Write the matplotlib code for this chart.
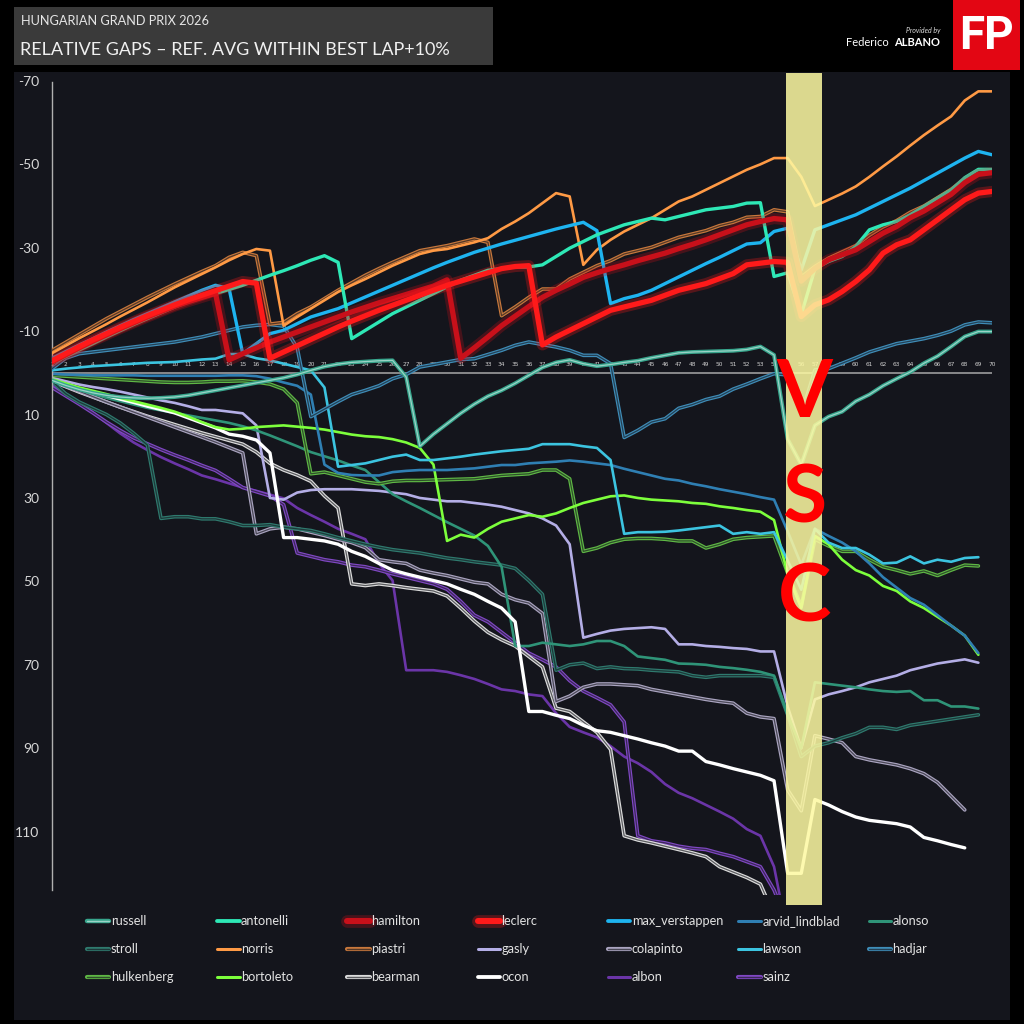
import numpy as np
import matplotlib
matplotlib.use('Agg')
import matplotlib.pyplot as plt
import matplotlib.patheffects as pe
from matplotlib.patches import Rectangle
from matplotlib.lines import Line2D

nan = np.nan
laps = list(range(1, 71))
y_ticks = [-70, -50, -30, -10, 10, 30, 50, 70, 90, 110]
vsc_start, vsc_end = 54.9, 57.5

russell = [1.8, 3, 4, 4.8, 5.4, 5.8, 6, 6.1, 6, 5.8,
           5.4, 4.8, 4.2, 3.6, 3, 2.4, 1.8, 1.2, 0.4, -0.6,
           -1.5, -2.1, -2.5, -2.7, -2.9, -3, 1, 17.6, 14.7, 12.2,
           9.7, 7.5, 5.6, 4.2, 2.5, 0.6, -1.3, -2.5, -3.1, -2.2,
           -1.6, -2, -2.5, -2.9, -3.6, -4.2, -4.8, -5, -5.1, -5.2,
           -5.3, -5.6, -6.3, -4.3, 15.9, 22, 12.6, 10.5, 9.3, 6.8,
           5.2, 3.1, 1.4, -0.2, -2.3, -4, -6.3, -8.7, -9.9, -9.9]
antonelli = [-2.3, -3.9, -5.5, -7, -8.6, -10.1, -11.6, -13, -14.4, -15.8,
             -17, -18, -19, -20, -21, -22.2, -23.4, -24.5, -25.7, -27,
             -28.1, -26.5, -8.2, -10.2, -12.2, -14.2, -15.8, -17.4, -19, -20.6,
             -22.2, -23.4, -24.6, -25, -25.4, -25.4, -25.9, -27.9, -29.9, -31.5,
             -33.1, -34.3, -35.5, -36.3, -37.1, -36.7, -37.5, -38.3, -39.1, -39.5,
             -39.9, -40.7, -40.8, -23.1, -24, -14, -25, -26.7, -27.9, -30.3,
             -34.3, -35.5, -36.3, -37.9, -39.9, -41.9, -43.9, -46.8, -48.8, -48.8]
hamilton = [-2.6, -4.3, -6, -7.6, -9.1, -10.6, -12, -13.4, -14.7, -16,
            -17.1, -18.1, -19.1, -3.1, -4.6, -6, -7.4, -8.6, -9.8, -11,
            -12.2, -13.4, -14.6, -15.7, -16.8, -17.8, -18.8, -19.8, -20.8, -22.3,
            -3.5, -6, -8.6, -11.3, -13.6, -15.9, -18.1, -19.8, -21.3, -22.9,
            -24, -25, -25.9, -26.9, -27.8, -28.7, -29.8, -30.8, -31.9, -33.1,
            -34.3, -35.5, -36.3, -37, -36.7, -22, -25, -27.1, -28.3, -29.5,
            -31.5, -33.5, -35.1, -37.2, -38.8, -40.8, -42.8, -45.6, -47.6, -48]
leclerc = [-2.9, -4.6, -6.3, -7.9, -9.4, -10.9, -12.3, -13.7, -15, -16.3,
           -17.5, -18.6, -19.7, -20.8, -21.9, -21.5, -3.5, -5, -6.5, -8,
           -9.5, -11, -12.4, -13.7, -15, -16.2, -17.4, -18.6, -19.8, -21,
           -22, -23, -24, -25, -25.5, -25.7, -6.7, -8.6, -10.2, -11.8,
           -13.4, -15, -15.8, -16.6, -17.4, -18.6, -19.8, -20.6, -21.4, -22.6,
           -23.8, -25.9, -26.3, -26.7, -26.5, -13.5, -16.3, -17.5, -19.5, -21.9,
           -24.7, -28.7, -30.7, -31.9, -34.3, -36.7, -39.1, -41.5, -43.1, -43.5]
max_verstappen = [-3.5, -5.1, -6.7, -8.2, -9.8, -11.3, -12.8, -14.2, -15.6, -17,
                  -18.4, -19.8, -21, -20.2, -4.6, -7, -9.4, -10.2, -11.8, -13.4,
                  -14.4, -15.4, -16.8, -18.2, -19.6, -21, -22.4, -23.8, -25.2, -26.5,
                  -27.7, -28.9, -29.9, -30.9, -31.8, -32.7, -33.6, -34.5, -35.3, -36.1,
                  -34.1, -16.6, -17.8, -18.6, -19.8, -21.4, -23, -24.6, -26.2, -27.7,
                  -29.3, -30.9, -31.2, -33.9, -34.7, -24.7, -34.3, -35.5, -36.7, -37.9,
                  -39.5, -41.1, -42.7, -44.3, -46.1, -47.9, -49.7, -51.5, -53.1, -52.3]
arvid_lindblad = [0.2, 0.4, 0.5, 0.6, 0.6, 0.6, 0.6, 0.7, 0.7, 0.7,
                  0.7, 0.7, 0.7, 0.6, 0.6, 0.8, 1.4, 2.3, 3.1, 5.2,
                  22, 24, 24.5, 24.6, 24.6, 23.8, 23.5, 23.3, 23.3, 23.3,
                  23.1, 22.9, 22.5, 22.1, 22.1, 21.7, 21.5, 21.3, 21, 21.3,
                  21.7, 22.1, 23, 23.8, 24.6, 25.4, 25.8, 26.6, 27.2, 27.9,
                  28.5, 29.1, 29.8, 30.4, 38, 46, 37.4, 39.1, 40.7, 42.8,
                  45.7, 49, 51.5, 54, 55.6, 58.1, 60.6, 63, 67.2, nan]
alonso = [2, 3, 4, 5, 6, 6.8, 7.6, 8.4, 9, 9.6,
          10.2, 10.8, 11.4, 12, 12.8, 13.8, 15, 16.3, 17.6, 19,
          20, 21, 22.2, 23.3, 26.2, 29.1, 30.8, 32.4, 34.1, 35.8,
          37.4, 39, 41.5, 46.5, 65.5, 65.5, 64.7, 65.1, 65.5, 65.1,
          64.3, 64.3, 65.5, 68, 68.4, 68.8, 69.7, 69.8, 70, 70.5,
          70.8, 71.2, 71.7, 72.6, 82, 90, 74.2, 74.6, 75, 75.4,
          75.9, 76.3, 76.5, 76.3, 78.5, 78.5, 80, 80, 80.5, nan]
stroll = [2, 5, 7, 8.5, 10, 12, 14.5, 17.3, 34.9, 34.5,
          34.5, 35, 35, 35.7, 36.6, 36.6, 36.4, 37, 37.4, 37.8,
          38.6, 39.5, 40.3, 41.1, 41.8, 42.4, 42.8, 43.2, 43.8, 44.4,
          44.8, 45.3, 45.7, 46.1, 46.9, 49.8, 53.1, 71.3, 70, 69.6,
          70.9, 70.5, 70.9, 71, 71.3, 71.5, 71.7, 72.6, 73, 72.6,
          72.6, 72.6, 72.6, 73, 82, 92, 89.5, 88.7, 87.5, 86.5,
          85, 85, 85.5, 84.5, 84, 83.5, 83, 82.5, 82, nan]
norris = [-4.7, -6.5, -8.3, -10, -11.7, -13.5, -15.2, -16.9, -18.7, -20.5,
          -22.1, -23.7, -25.3, -27, -28.5, -29.7, -29.3, -11.3, -13.4, -15.4,
          -17.4, -19.4, -21, -22.5, -24.1, -25.7, -27.1, -28.5, -29.3, -29.7,
          -30.5, -31.3, -32.3, -34.5, -36.3, -38.3, -40.7, -43.1, -42.3, -25.9,
          -29.5, -31.9, -33.9, -35.5, -37.1, -39.1, -41.1, -42.3, -43.9, -45.5,
          -47.1, -48.7, -50, -51.5, -51.5, -47, -40, -41.5, -43, -44.7,
          -47, -49.5, -51.9, -54.5, -57, -59.3, -61.5, -65.3, -67.5, -67.5]
piastri = [-5.4, -7.3, -9.2, -11.1, -13, -14.7, -16.4, -18.1, -19.7, -21.3,
           -22.8, -24.3, -25.7, -27.7, -28.9, -28.1, -11.7, -12.1, -14.2, -15.8,
           -17.8, -19.8, -21.6, -23.4, -25, -26.5, -27.9, -29.3, -29.9, -30.5,
           -31.3, -32.1, -31.3, -13.7, -15.8, -18.1, -20.1, -20.1, -22.5, -24.1,
           -25.7, -26.9, -28.5, -29.3, -30.1, -31.3, -32.5, -33.3, -34.1, -35.3,
           -36.1, -37.3, -37.5, -39.1, -38.6, -23, -25.5, -27.5, -29, -30.5,
           -33, -35, -36.5, -38.5, -40, -42, -44, -46.5, -48.3, -48.5]
gasly = [1.2, 2, 2.8, 3.4, 3.9, 4.5, 5.2, 5.9, 6.6, 7.2,
         8, 8.9, 8.9, 9.3, 9.7, 12.6, 30, 30.4, 28.7, 28.1,
         27.9, 27.9, 27.9, 28.1, 28.3, 28.7, 29.1, 30, 30.4, 30.8,
         30.8, 31.2, 31.6, 32.1, 32.9, 33.7, 34.9, 36.6, 41.1, 63.5,
         62.6, 61.8, 61.4, 61.2, 61, 61.4, 65.1, 65.1, 65.5, 65.7,
         66, 66.2, 66.8, 66.8, 80, 90, 78.3, 77.1, 76.3, 75.4,
         74.2, 73.4, 72.6, 71.3, 70.5, 69.7, 69.2, 68.7, 69.5, nan]
colapinto = [2, 3.2, 4.4, 5.7, 7, 8.2, 9.4, 10.6, 11.8, 13,
             14.2, 15.4, 16.6, 17.9, 19.2, 38.6, 37.4, 37, 37.4, 38.2,
             39, 39.9, 40.7, 41.9, 44.8, 45.3, 45.7, 47.3, 48, 48.6,
             49.4, 50.2, 50.6, 53.1, 54.4, 55.2, 57.7, 78.8, 77.5, 75.4,
             74.6, 74.6, 74.8, 75, 75.9, 76.5, 77.1, 77.7, 78.3, 78.8,
             79.2, 81.6, 82.5, 82.9, 100, 105, 87, 87.8, 88.7, 92,
             92.8, 93.4, 94, 94.9, 96.1, 98.2, 101.5, 104.8, nan, nan]
lawson = [-0.6, -1, -1.3, -1.6, -1.8, -2, -2.2, -2.4, -2.5, -2.6,
          -2.9, -3.2, -3.4, -4.5, -4.5, -3.5, -3, -2.2, -1.4, -0.6,
          3.5, 22.5, 22.1, 21.7, 20.9, 20.1, 19.6, 20.9, 20.9, 20.5,
          20.1, 19.6, 19.2, 18.8, 18.5, 18.2, 17.1, 17.1, 17.1, 17.6,
          18, 20.9, 38.6, 38.2, 38.2, 38.1, 37.8, 37.4, 37, 36.6,
          38.6, 38.2, 38.6, 38.2, 45, 52, 37.4, 40.7, 42, 42,
          43.6, 45.7, 45.5, 44, 45.7, 44.8, 45.3, 44.4, 44.2, nan]
hadjar = [-1, -3.5, -4.6, -5, -5.4, -5.8, -6.2, -6.6, -7, -7.4,
          -8, -8.6, -9.4, -10.2, -11, -11.4, -11.6, -11.2, -6, 10.5,
          8.7, 6.9, 5.2, 4.2, 3.1, 1.4, 0.4, -1.4, -2, -2.6,
          -3.2, -3.4, -4.4, -5.4, -6.6, -7.4, -6.8, -6.2, -5.4, -4.2,
          -4.2, -2.2, 15.5, 13.8, 11.8, 11, 8.5, 7.6, 6.4, 5.6,
          3.9, 2.7, 1.4, 0.2, 0.5, 10, -0.7, -1, -2.3, -3.6,
          -5, -6, -7, -7.6, -8.2, -9, -10, -11.5, -12.2, -12]
hulkenberg = [0.6, 0.8, 1, 1.2, 1.4, 1.6, 1.8, 2, 2.2, 2.3,
              2.3, 2.2, 2, 2, 1.9, 2.2, 2.7, 3.9, 7.2, 24.2,
              23.8, 24.6, 25.4, 26.2, 26.6, 26, 25.8, 25.8, 25.7, 25.6,
              25.5, 25.4, 25, 24.6, 24.4, 24.2, 23.3, 23.3, 25.4, 42.8,
              42, 40.7, 39.9, 39.7, 39.7, 39.9, 40.3, 40.3, 42, 41.1,
              39.9, 39.5, 39.3, 39.1, 48, 56, 39.9, 41.5, 42.8, 42.8,
              44.8, 46.5, 47.3, 48.2, 47.5, 48.6, 47.3, 46.1, 46.3, nan]
bortoleto = [1.5, 2.5, 3.5, 4.3, 5.1, 6, 6.8, 7.6, 8.4, 9.3,
             10.5, 11.8, 13, 13.6, 13.4, 13, 12.8, 12.6, 12.9, 13.2,
             13.6, 14.2, 14.8, 15.2, 15.4, 15.9, 16.7, 18, 22, 40.3,
             38.8, 39.5, 37.4, 35.7, 34.9, 34.1, 34.5, 33.7, 32.4, 31.2,
             30.4, 29.6, 29.4, 30, 30.4, 30.6, 30.8, 31.2, 31.4, 32,
             32.4, 32.9, 33.3, 35.3, 48.2, 56.4, 39.1, 41.1, 44.8, 47.3,
             48.6, 51.1, 52.3, 54.8, 56.4, 58.5, 60.6, 63, 67.6, nan]
bearman = [2, 3.3, 4.6, 5.8, 7, 8.2, 9.3, 10.4, 11.4, 12.4,
           13.4, 14.4, 15.3, 16.2, 17.1, 19, 21.7, 23.3, 24.5, 26,
           29.5, 32.4, 50.6, 51, 50.6, 51, 51.5, 51.9, 52.3, 53.5,
           56.4, 59.5, 62.2, 64, 65.5, 68, 70.5, 80.4, 81.2, 83.7,
           86.2, 90.3, 111, 112, 112.7, 113.5, 114.3, 115.1, 116, 118.4,
           119.7, 121, 122.6, 130] + [nan] * 16
ocon = [1.8, 2.8, 3.8, 4.6, 5.4, 6.3, 7.1, 8, 8.8, 9.6,
        10.8, 12, 13.2, 14.7, 15.2, 16.1, 19.2, 39.5, 39.5, 39.9,
        40.3, 41.1, 42.8, 44, 45.7, 47.3, 48.2, 49, 49.8, 50.6,
        51.9, 53.1, 54.8, 56.4, 59.7, 81.2, 81.2, 82.1, 82.9, 84.5,
        85.8, 86.2, 87, 87.8, 88.7, 89.5, 90.7, 90.7, 93.2, 94,
        94.9, 95.7, 96.5, 97.8, 120, 120, 102.3, 103.6, 105.2, 106.5,
        107.3, 107.7, 108.1, 108.9, 111.4, 112.2, 113.1, 113.9, nan, nan]
albon = [3, 5, 7.2, 9.5, 12, 14.5, 16.7, 18.5, 20.2, 21.7,
         23.1, 24.6, 25.5, 26.5, 27.5, 28.3, 29.2, 30.1, 32.4, 34.1,
         35.7, 37.4, 38.6, 39.9, 45.7, 49.8, 71.3, 71.3, 71.3, 71.7,
         72.5, 73.4, 74.6, 75.9, 76.3, 77.1, 77.5, 81.6, 84.9, 86.2,
         87.4, 89.5, 92, 93.6, 95.7, 98.6, 100.7, 102, 103.6, 105.2,
         106.9, 109.4, 111, 118.4, 135] + [nan] * 15
sainz = [3.5, 5.5, 7.5, 9.6, 11.8, 13.8, 15.6, 17, 18.4, 19.7,
         20.9, 22.2, 23.4, 25.4, 27.5, 28.5, 29.5, 31.6, 43.2, 44,
         44.8, 45.3, 46.1, 46.5, 47.3, 48.2, 49, 49.8, 50.6, 51.9,
         54.8, 58.1, 59.7, 62.2, 64.7, 67.2, 68.8, 70.5, 73.8, 76.3,
         77.9, 79.6, 83.7, 111, 112.2, 112.7, 113.5, 114, 114.3, 115.2,
         116, 117.2, 118.4, 124, 132] + [nan] * 15

drivers = ['russell', 'antonelli', 'hamilton', 'leclerc', 'max_verstappen', 'arvid_lindblad', 'alonso',
           'stroll', 'norris', 'piastri', 'gasly', 'colapinto', 'lawson', 'hadjar',
           'hulkenberg', 'bortoleto', 'bearman', 'ocon', 'albon', 'sainz']
series = {'russell': russell, 'antonelli': antonelli, 'hamilton': hamilton, 'leclerc': leclerc,
          'max_verstappen': max_verstappen, 'arvid_lindblad': arvid_lindblad, 'alonso': alonso,
          'stroll': stroll, 'norris': norris, 'piastri': piastri, 'gasly': gasly,
          'colapinto': colapinto, 'lawson': lawson, 'hadjar': hadjar, 'hulkenberg': hulkenberg,
          'bortoleto': bortoleto, 'bearman': bearman, 'ocon': ocon, 'albon': albon, 'sainz': sainz}

BG = '#14151c'
STYLE = {
    'russell': ('#37a58c', 'light'), 'antonelli': ('#2ee8b6', 'bold'),
    'hamilton': ('#c8101a', 'glow'), 'leclerc': ('#ff1a1a', 'glow'),
    'max_verstappen': ('#1eb4f0', 'bold'), 'arvid_lindblad': ('#2f7fb3', 'solid'),
    'alonso': ('#2f9478', 'solid'), 'stroll': ('#2f7a6e', 'double'),
    'norris': ('#ff9a45', 'solid'), 'piastri': ('#c8783c', 'double'),
    'gasly': ('#b4aee6', 'solid'), 'colapinto': ('#aaa4c0', 'double'),
    'lawson': ('#3cc4e0', 'solid'), 'hadjar': ('#3f8db8', 'double'),
    'hulkenberg': ('#5fb845', 'double'), 'bortoleto': ('#7dff3c', 'solid'),
    'bearman': ('#dcdcdc', 'double'), 'ocon': ('#ffffff', 'bold'),
    'albon': ('#6b35a8', 'solid'), 'sainz': ('#8048c4', 'double'),
}


def mix(c, t, other=BG):
    a = np.array(matplotlib.colors.to_rgb(c))
    b = np.array(matplotlib.colors.to_rgb(other))
    return tuple(a * (1 - t) + b * t)


def style_kw(name, s=1.0):
    c, kind = STYLE[name]
    if kind == 'solid':
        return dict(color=c, lw=1.9 * s)
    if kind == 'bold':
        return dict(color=c, lw=2.4 * s)
    if kind == 'double':
        return dict(color=c, lw=2.6 * s,
                    path_effects=[pe.Stroke(linewidth=2.6 * s, foreground=c),
                                  pe.Stroke(linewidth=0.9 * s, foreground=mix(c, 0.65))])
    if kind == 'light':
        return dict(color=c, lw=2.8 * s,
                    path_effects=[pe.Stroke(linewidth=2.8 * s, foreground=c),
                                  pe.Stroke(linewidth=0.9 * s, foreground=mix(c, 0.5, '#ffffff'))])
    if kind == 'glow':
        return dict(color=c, lw=3.8 * s,
                    path_effects=[pe.Stroke(linewidth=8 * s, foreground=c, alpha=0.28),
                                  pe.Normal()])


fig = plt.figure(figsize=(10.24, 10.24), dpi=100)
fig.patch.set_facecolor('black')


def fx(px):
    return px / 1024


def fy(py):
    return 1 - py / 1024


fig.add_artist(Rectangle((fx(14), fy(1020)), 996 / 1024, 948 / 1024, transform=fig.transFigure,
                         facecolor=BG, edgecolor='none', zorder=0))
# header
fig.add_artist(Rectangle((fx(14), fy(65)), 479 / 1024, 58 / 1024, transform=fig.transFigure,
                         facecolor='#3a3a3a', edgecolor='none', zorder=1))
fig.text(fx(21), fy(21), 'HUNGARIAN GRAND PRIX 2026', family='Lato', fontsize=9.2,
         color='#e6e6e6', ha='left', va='center')
fig.text(fx(20), fy(50), 'RELATIVE GAPS \u2013 REF. AVG WITHIN BEST LAP+10%', family='Lato',
         fontsize=13, color='#f0f0f0', ha='left', va='center')
fig.add_artist(Rectangle((fx(953), fy(70)), 67 / 1024, 70 / 1024, transform=fig.transFigure,
                         facecolor='#e30613', edgecolor='none', zorder=1))
fig.text(fx(987), fy(36), 'FP', family='Roboto', weight='bold',
         fontsize=33, color='white', ha='center', va='center')
fig.text(fx(940), fy(30), 'Provided by', family='Lato', style='italic', fontsize=5,
         color='#dddddd', ha='right', va='center')
fig.text(fx(940), fy(43), 'ALBANO', family='Lato', weight='bold', fontsize=8,
         color='white', ha='right', va='center')
fig.text(fx(889), fy(43), 'Federico', family='Lato', fontsize=8,
         color='white', ha='right', va='center')

ax = fig.add_axes([fx(52), fy(895), 940 / 1024, 822 / 1024])
ax.set_facecolor('none')
ax.set_xlim(1, 70)
ax.set_ylim(125.2, -71.9)
for sp in ['top', 'right', 'bottom']:
    ax.spines[sp].set_visible(False)
ax.spines['left'].set_color('#b0b0b0')
ax.spines['left'].set_linewidth(1.0)
ax.spines['left'].set_bounds(-69.8, 124)
ax.set_xticks([])
ax.set_yticks(y_ticks)
ax.set_yticklabels([str(t) for t in y_ticks], family='Lato')
ax.tick_params(axis='y', length=0, pad=9, labelsize=10, labelcolor='#d8d8d8')
ax.axhline(0, color='#a8a8a8', lw=1.1, zorder=1)
for lap in laps:
    ax.text(lap, -2.0, str(lap), fontsize=4.2, color='#cfcfcf', ha='center', va='center', zorder=1)

order_draw = ['albon', 'sainz', 'bearman', 'colapinto', 'gasly', 'stroll', 'alonso', 'ocon',
              'hulkenberg', 'bortoleto', 'arvid_lindblad', 'lawson', 'hadjar', 'russell',
              'piastri', 'norris', 'max_verstappen', 'antonelli', 'hamilton', 'leclerc']
for i, name in enumerate(order_draw):
    ax.plot(laps, series[name], zorder=2 + i * 0.05, solid_capstyle='round',
            solid_joinstyle='round', **style_kw(name))

ax.add_patch(Rectangle((vsc_start, -71.9), vsc_end - vsc_start, 127.6 + 71.9,
                       facecolor='#fdf9a2', alpha=0.86, edgecolor='none', zorder=6, clip_on=False))
vx = (vsc_start + vsc_end) / 2 + 0.05
for letter, yy in zip('VSC', [5.1, 30.4, 54.0]):
    ax.text(vx, yy, letter, family='Lato', weight='bold', fontsize=58, color='#ff0000',
            ha='center', va='center', zorder=7)

# legend
rows_y = [921, 949, 977]
for i, name in enumerate(drivers):
    r, cidx = divmod(i, 7)
    x0 = 86.7 + cidx * 130.3
    yy = fy(rows_y[r])
    kw = style_kw(name, 1.15)
    fig.add_artist(Line2D([fx(x0), fx(x0 + 22.5)], [yy, yy], transform=fig.transFigure,
                          solid_capstyle='round', **kw))
    fig.text(fx(x0 + 24), yy, name, family='Lato', fontsize=9.2, color='#e2e2e2',
             ha='left', va='center')

fig.savefig('out.png', dpi=100, facecolor='black')
